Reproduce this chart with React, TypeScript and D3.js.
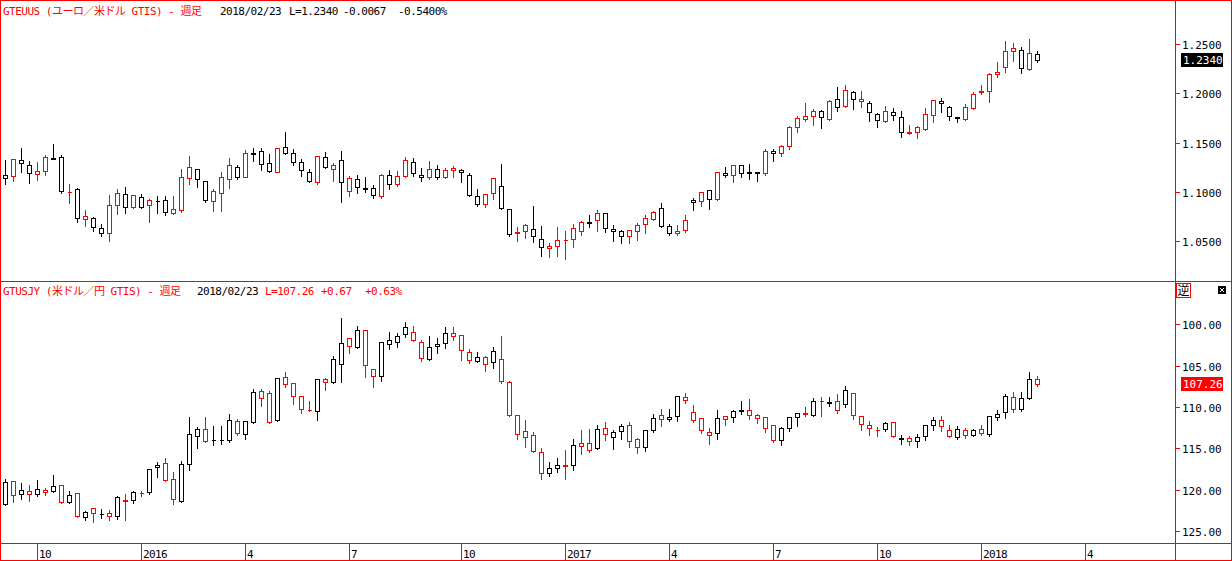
import React, { useEffect, useRef } from "react";
import * as d3 from "d3";

// weekly bars, Friday closes, 2015/09/04 .. 2018/02/23 (130 weeks)
const weekEnds = d3.timeFriday.range(new Date(2015, 8, 4), new Date(2018, 1, 24));

const eurOpen = [
  1.1168, 1.1158, 1.132, 1.1269, 1.1178, 1.1208, 1.1347, 1.135, 1.0996, 1.1026,
  1.0722, 1.0732, 1.0631, 1.058, 1.0864, 1.0975, 1.0843, 1.0945, 1.0864, 1.0908,
  1.0914, 1.0783, 1.082, 1.1137, 1.1229, 1.111, 1.0904, 1.0985, 1.1127, 1.1249,
  1.1154, 1.1394, 1.1411, 1.129, 1.1205, 1.1452, 1.1391, 1.13, 1.1198, 1.11,
  1.135, 1.1235, 1.132, 1.1006, 1.1127, 1.1036, 1.1036, 1.0955, 1.1168, 1.1077,
  1.1158, 1.13, 1.1168, 1.1148, 1.1229, 1.1148, 1.1219, 1.1219, 1.1168, 1.0962,
  1.0874, 1.0985, 1.1056, 1.0823, 1.0583, 1.06, 1.062, 1.0519, 1.0428, 1.0448,
  1.0509, 1.0519, 1.06, 1.0695, 1.0711, 1.0782, 1.062, 1.06, 1.0549, 1.06,
  1.0671, 1.0722, 1.0833, 1.0651, 1.058, 1.061, 1.0914, 1.0904, 1.1016, 1.0924,
  1.1188, 1.1168, 1.1269, 1.1198, 1.1201, 1.1188, 1.1411, 1.1391, 1.1462, 1.1654,
  1.1736, 1.1767, 1.1817, 1.1736, 1.1939, 1.1868, 1.201, 1.1919, 1.1898, 1.1787,
  1.1716, 1.1807, 1.1756, 1.1601, 1.1604, 1.1642, 1.1777, 1.1919, 1.1858, 1.1756,
  1.1736, 1.1848, 1.2013, 1.202, 1.2192, 1.2263, 1.2426, 1.2436, 1.2243, 1.2395,
];
const eurHigh = [
  1.133, 1.1344, 1.1452, 1.132, 1.131, 1.1384, 1.1492, 1.1381, 1.109, 1.1046,
  1.0823, 1.0752, 1.0681, 1.0979, 1.1039, 1.1056, 1.0979, 1.0985, 1.0935, 1.0972,
  1.0965, 1.0968, 1.1239, 1.1374, 1.1246, 1.1117, 1.1039, 1.1212, 1.135, 1.1283,
  1.1432, 1.1452, 1.1452, 1.1394, 1.1452, 1.1617, 1.1442, 1.1344, 1.1242, 1.1377,
  1.1415, 1.1303, 1.1425, 1.1168, 1.1181, 1.1161, 1.1077, 1.1188, 1.1232, 1.1219,
  1.1364, 1.135, 1.1249, 1.132, 1.1279, 1.1249, 1.1269, 1.1239, 1.1198, 1.1036,
  1.0985, 1.114, 1.1293, 1.0836, 1.0651, 1.0685, 1.0864, 1.0664, 1.0488, 1.0654,
  1.061, 1.0681, 1.0715, 1.0772, 1.0826, 1.0785, 1.0671, 1.062, 1.062, 1.0691,
  1.0776, 1.0816, 1.0897, 1.0681, 1.0671, 1.0772, 1.0945, 1.0998, 1.1019, 1.1208,
  1.1259, 1.1279, 1.1279, 1.1289, 1.1212, 1.1442, 1.1442, 1.1482, 1.1675, 1.1776,
  1.1912, 1.1848, 1.1838, 1.1939, 1.2071, 1.2094, 1.203, 1.203, 1.1929, 1.1807,
  1.1878, 1.1858, 1.1827, 1.1686, 1.1675, 1.1858, 1.1939, 1.1959, 1.1878, 1.177,
  1.1898, 1.202, 1.2094, 1.2213, 1.2324, 1.2537, 1.2517, 1.2476, 1.2557, 1.2436,
];
const eurLow = [
  1.1077, 1.1114, 1.1205, 1.1093, 1.1124, 1.1168, 1.133, 1.0985, 1.0891, 1.0698,
  1.0654, 1.0607, 1.0553, 1.0505, 1.0779, 1.0789, 1.084, 1.084, 1.0698, 1.0789,
  1.0769, 1.0779, 1.08, 1.1077, 1.1053, 1.0901, 1.081, 1.081, 1.1039, 1.1134,
  1.1148, 1.1317, 1.1222, 1.1205, 1.12, 1.1381, 1.1276, 1.1165, 1.11, 1.1083,
  1.1239, 1.1114, 1.0901, 1.0962, 1.0992, 1.1002, 1.0941, 1.0941, 1.1033, 1.1063,
  1.1148, 1.1165, 1.1114, 1.1127, 1.1134, 1.1144, 1.1148, 1.1097, 1.0962, 1.0854,
  1.0843, 1.0925, 1.0823, 1.0556, 1.0505, 1.0536, 1.0495, 1.0353, 1.0343, 1.0353,
  1.0323, 1.0444, 1.0566, 1.0647, 1.0607, 1.0597, 1.0505, 1.0485, 1.0485, 1.0515,
  1.0586, 1.0711, 1.064, 1.0566, 1.0559, 1.059, 1.0813, 1.086, 1.083, 1.0914,
  1.1147, 1.1097, 1.1154, 1.1127, 1.1107, 1.1168, 1.131, 1.136, 1.1431, 1.1604,
  1.1716, 1.1682, 1.1652, 1.1726, 1.1817, 1.1858, 1.1838, 1.1858, 1.1716, 1.1662,
  1.1713, 1.1726, 1.156, 1.1584, 1.1544, 1.1631, 1.1706, 1.1807, 1.1726, 1.1713,
  1.1726, 1.1838, 1.199, 1.1909, 1.2162, 1.2213, 1.2331, 1.2203, 1.2233, 1.2314,
];
const eurClose = [
  1.1137, 1.133, 1.129, 1.1188, 1.1208, 1.135, 1.1333, 1.1006, 1.1002, 1.0732,
  1.0752, 1.0641, 1.058, 1.0864, 1.0985, 1.085, 1.0965, 1.0843, 1.0914, 1.0904,
  1.0793, 1.0827, 1.1148, 1.1249, 1.1127, 1.0921, 1.1009, 1.1148, 1.1269, 1.1154,
  1.1391, 1.1388, 1.1279, 1.1215, 1.1445, 1.1391, 1.13, 1.1219, 1.1107, 1.1364,
  1.1249, 1.1269, 1.1097, 1.1137, 1.1046, 1.1029, 1.0965, 1.1168, 1.1077, 1.1158,
  1.132, 1.1188, 1.1148, 1.1229, 1.1148, 1.1219, 1.1239, 1.1198, 1.0965, 1.0874,
  1.0975, 1.1137, 1.0833, 1.057, 1.059, 1.0661, 1.0549, 1.0438, 1.0448, 1.0509,
  1.0515, 1.063, 1.0691, 1.0688, 1.0782, 1.063, 1.06, 1.0549, 1.061, 1.0661,
  1.0732, 1.0793, 1.0651, 1.058, 1.06, 1.0711, 1.0894, 1.0995, 1.0924, 1.1198,
  1.1168, 1.1269, 1.1188, 1.1191, 1.1195, 1.1411, 1.1391, 1.1462, 1.1654, 1.1746,
  1.1767, 1.1817, 1.1756, 1.1919, 1.1858, 1.203, 1.1939, 1.1939, 1.1807, 1.1726,
  1.1817, 1.1777, 1.1604, 1.1608, 1.1655, 1.1787, 1.1929, 1.1898, 1.1767, 1.175,
  1.1858, 1.199, 1.202, 1.2192, 1.2213, 1.2426, 1.2456, 1.2253, 1.2407, 1.234,
];

const jpyOpen = [
  121.69, 118.99, 120.56, 120.2, 120.56, 120.08, 120.2, 119.47, 121.53, 120.44,
  123.35, 122.26, 122.98, 122.86, 123.23, 121.25, 121.29, 120.36, 120.32, 117.29,
  116.81, 118.75, 121.41, 116.93, 113.54, 112.69, 114.02, 114.02, 114.02, 111.72,
  113.3, 111.84, 108.09, 108.33, 111.6, 106.4, 107.12, 108.7, 110.31, 110.51,
  106.64, 107.0, 104.82, 101.67, 102.76, 100.71, 105.43, 106.28, 102.4, 102.16,
  101.19, 100.95, 102.16, 104.22, 102.64, 102.28, 101.07, 101.31, 103.37, 104.46,
  103.98, 104.58, 104.22, 107.0, 110.9, 112.93, 113.42, 115.48, 118.02, 117.41,
  117.01, 117.05, 114.39, 114.39, 114.99, 112.57, 113.66, 112.93, 112.21, 113.9,
  114.87, 112.81, 110.99, 111.48, 111.12, 108.82, 110.63, 111.36, 113.05, 113.18,
  111.12, 111.24, 110.43, 110.39, 110.99, 111.24, 112.21, 114.02, 112.57, 111.24,
  110.72, 111.0, 109.22, 109.46, 109.3, 109.67, 108.33, 111.12, 112.21, 112.73,
  112.69, 111.85, 113.82, 113.78, 114.15, 113.54, 112.21, 111.6, 112.81, 113.66,
  112.81, 113.42, 112.69, 113.3, 111.24, 110.63, 108.82, 110.27, 108.94, 106.6,
];
const jpyHigh = [
  121.81, 121.45, 121.09, 121.33, 120.72, 120.68, 120.32, 121.57, 121.65, 123.35,
  123.71, 123.87, 123.39, 123.71, 123.59, 123.71, 121.65, 120.8, 120.56, 118.5,
  118.99, 121.77, 121.53, 117.66, 114.99, 114.2, 114.63, 114.51, 114.27, 113.42,
  113.9, 111.97, 109.91, 111.97, 111.7, 107.61, 109.67, 110.76, 110.51, 111.6,
  107.97, 107.04, 107.0, 103.49, 102.89, 106.4, 107.61, 106.88, 103.01, 102.76,
  101.55, 102.04, 104.46, 104.25, 103.49, 102.89, 101.92, 104.34, 104.7, 104.5,
  105.67, 105.31, 107.12, 111.12, 113.9, 114.87, 115.48, 118.75, 118.38, 117.9,
  118.75, 117.66, 115.72, 115.48, 115.11, 114.02, 115.11, 113.9, 114.87, 115.6,
  115.36, 113.05, 112.33, 111.72, 111.72, 109.54, 111.84, 113.18, 114.51, 113.9,
  112.21, 111.84, 110.88, 111.48, 111.97, 113.05, 114.27, 114.63, 112.93, 112.33,
  111.12, 111.12, 111.04, 109.91, 110.76, 110.03, 111.48, 112.81, 113.42, 113.54,
  112.93, 113.66, 114.51, 114.63, 114.87, 114.02, 112.81, 112.93, 113.66, 113.9,
  113.78, 113.54, 113.42, 113.54, 111.6, 111.36, 110.63, 110.51, 109.06, 107.49,
];
const jpyLow = [
  118.62, 118.87, 119.11, 119.35, 118.75, 119.72, 118.14, 119.35, 120.08, 120.32,
  122.5, 122.22, 122.26, 122.38, 120.68, 120.44, 120.08, 120.08, 117.41, 116.53,
  116.08, 117.78, 116.45, 111.12, 112.33, 111.12, 112.21, 112.21, 110.75, 111.36,
  111.68, 107.73, 107.73, 107.97, 106.4, 105.67, 107.1, 108.58, 109.18, 106.52,
  106.4, 103.73, 99.13, 101.55, 100.1, 100.59, 105.4, 102.04, 100.83, 100.95,
  99.62, 100.1, 101.8, 101.31, 101.55, 100.22, 100.22, 101.28, 102.89, 103.25,
  103.73, 102.64, 101.31, 106.76, 110.8, 111.48, 112.93, 114.87, 116.57, 116.08,
  115.11, 113.78, 112.69, 112.57, 112.09, 111.72, 112.69, 111.97, 111.72, 113.66,
  112.69, 110.75, 110.15, 110.15, 108.58, 108.21, 109.66, 111.24, 112.45, 110.27,
  110.99, 110.27, 109.18, 108.94, 110.75, 111.2, 112.18, 112.33, 111.12, 110.63,
  109.91, 108.82, 108.7, 108.7, 108.33, 107.36, 108.3, 111.1, 111.6, 112.33,
  111.72, 111.72, 113.3, 113.42, 113.18, 112.09, 111.12, 111.0, 112.09, 112.21,
  112.45, 112.57, 112.09, 111.0, 110.27, 108.33, 108.09, 108.09, 105.67, 106.15,
];
const jpyClose = [
  119.11, 120.68, 120.08, 120.56, 119.96, 120.32, 119.59, 121.53, 120.68, 123.23,
  122.74, 122.86, 122.9, 123.23, 120.93, 121.33, 120.32, 120.44, 117.54, 117.05,
  118.87, 121.17, 116.93, 113.3, 112.69, 114.14, 113.94, 113.94, 111.6, 113.18,
  111.72, 108.21, 108.94, 111.84, 106.52, 107.24, 108.7, 110.27, 110.39, 106.64,
  107.0, 104.22, 102.28, 102.64, 100.71, 104.94, 106.28, 102.16, 101.92, 101.43,
  100.34, 101.92, 104.1, 102.76, 102.4, 101.07, 101.43, 103.13, 104.34, 103.98,
  104.82, 103.25, 106.88, 111.0, 113.2, 113.66, 115.36, 118.02, 117.41, 117.05,
  117.09, 114.63, 114.75, 115.24, 112.69, 113.3, 113.05, 112.33, 114.14, 114.87,
  112.81, 111.36, 111.48, 111.24, 108.7, 109.18, 111.6, 112.81, 113.42, 111.36,
  111.48, 110.51, 110.35, 110.99, 111.36, 112.57, 114.02, 112.57, 111.24, 110.75,
  110.8, 109.3, 109.3, 109.38, 110.39, 107.97, 111.0, 112.09, 112.57, 112.81,
  111.97, 113.54, 113.74, 114.15, 113.66, 112.21, 111.6, 112.33, 113.54, 112.69,
  113.42, 112.81, 113.18, 111.12, 110.88, 108.7, 110.27, 108.94, 106.59, 107.26,
];

const eurTicks = [1.05, 1.1, 1.15, 1.2, 1.25];
const jpyTicks = [100, 105, 110, 115, 120, 125];
const xTickDates = [
  "2015-10-02", "2016-01-01", "2016-04-01", "2016-07-01", "2016-10-07", "2017-01-06",
  "2017-04-07", "2017-07-07", "2017-10-06", "2018-01-05", "2018-04-06",
];
const xTickLabels = ["10", "2016", "4", "7", "10", "2017", "4", "7", "10", "2018", "4"];

const RED = "#ff0000";
const MONO = "'DejaVu Sans Mono', 'Noto Sans CJK JP', monospace";

function drawCandles(g: any, x: any, y: any, o: number[], h: number[], l: number[], c: number[]) {
  weekEnds.forEach((d, i) => {
    const cx = Math.floor(x(d) + 0.01) + 0.5;
    const col = c[i] >= o[i] ? RED : "#000";
    g.append("line")
      .attr("x1", cx).attr("x2", cx)
      .attr("y1", Math.round(y(h[i])) + 0.5)
      .attr("y2", Math.round(y(l[i])) + 0.5)
      .attr("stroke", col);
    const top = Math.round(Math.min(y(o[i]), y(c[i]))) + 0.5;
    const bot = Math.round(Math.max(y(o[i]), y(c[i]))) + 0.5;
    g.append("path")
      .attr("d", `M${cx - 2},${top}H${cx + 2}V${bot}H${cx - 2}Z`)
      .attr("fill", "#fff")
      .attr("stroke", col);
  });
}

export default function App() {
  const ref = useRef<SVGSVGElement>(null);

  useEffect(() => {
    document.body.style.margin = "0";
    const svg = d3.select(ref.current);
    svg.selectAll("*").remove();
    svg.attr("shape-rendering", "crispEdges");

    const x = d3.scaleTime()
      .domain([weekEnds[0], weekEnds[weekEnds.length - 1]])
      .range([5.5, 5.5 + 8 * (weekEnds.length - 1)]);
    // top panel 0..281, bottom (inverted) 281..543
    const yEur = d3.scaleLinear().domain([1.00963, 1.29462]).range([281, 0]);
    const yJpy = d3.scaleLinear().domain([94.734, 126.453]).range([281, 543]);

    const candles = svg.append("g");
    drawCandles(candles, x, yEur, eurOpen, eurHigh, eurLow, eurClose);
    drawCandles(candles, x, yJpy, jpyOpen, jpyHigh, jpyLow, jpyClose);

    // frame
    const frame = svg.append("g").attr("stroke", RED).attr("fill", "none");
    frame.append("rect").attr("x", 0.5).attr("y", 0.5).attr("width", 1231).attr("height", 560);
    frame.append("line").attr("x1", 0).attr("x2", 1232).attr("y1", 281.5).attr("y2", 281.5);
    frame.append("line").attr("x1", 0).attr("x2", 1232).attr("y1", 543.5).attr("y2", 543.5);
    frame.append("line").attr("x1", 1175.5).attr("x2", 1175.5).attr("y1", 0).attr("y2", 561);

    // price axes
    const axis = (ticks: number[], y: any, fmt: (v: number) => string) => {
      ticks.forEach((t) => {
        const ty = Math.round(y(t)) + 0.5;
        svg.append("line").attr("x1", 1175).attr("x2", 1180).attr("y1", ty).attr("y2", ty).attr("stroke", RED);
        svg.append("text").attr("x", 1182).attr("y", ty + 4)
          .attr("font-family", MONO).attr("font-size", 11).attr("fill", "#000")
          .text(fmt(t));
      });
    };
    axis(eurTicks, yEur, d3.format(".4f"));
    axis(jpyTicks, yJpy, d3.format(".2f"));

    // last price tags
    const tag = (v: number, y: any, bg: string, label: string) => {
      const cy = Math.round(y(v));
      svg.append("rect").attr("x", 1181).attr("y", cy - 7).attr("width", 42).attr("height", 14).attr("fill", bg);
      svg.append("text").attr("x", 1183).attr("y", cy + 4)
        .attr("font-family", MONO).attr("font-size", 11).attr("fill", "#fff").text(label);
    };
    tag(eurClose[eurClose.length - 1], yEur, "#000", "1.2340");
    tag(jpyClose[jpyClose.length - 1], yJpy, RED, "107.26");

    // reverse / close buttons
    svg.append("rect").attr("x", 1176.5).attr("y", 283.5).attr("width", 14).attr("height", 14)
      .attr("fill", "#fff").attr("stroke", RED);
    svg.append("text").attr("x", 1183.5).attr("y", 295).attr("text-anchor", "middle")
      .attr("font-family", "'Noto Sans CJK JP'").attr("font-size", 12).attr("fill", "#000").text("逆");
    svg.append("rect").attr("x", 1218).attr("y", 286).attr("width", 8).attr("height", 8).attr("fill", "#000");
    svg.append("path").attr("d", "M1220,288L1224,292M1224,288L1220,292").attr("stroke", "#fff")
      .attr("shape-rendering", "auto");

    // x axis
    xTickDates.forEach((s, i) => {
      const tx = Math.floor(x(new Date(s + "T00:00:00")) + 0.01) + 0.5;
      svg.append("line").attr("x1", tx).attr("x2", tx).attr("y1", 543).attr("y2", 561).attr("stroke", RED);
      svg.append("text").attr("x", tx + 1.5).attr("y", 558)
        .attr("font-family", MONO).attr("font-size", 11).attr("letter-spacing", -0.6)
        .attr("fill", "#000").text(xTickLabels[i]);
    });

    // headers
    const head = (items: [number, string, string][], y: number) => {
      items.forEach(([hx, txt, col]) => {
        svg.append("text").attr("x", hx).attr("y", y)
          .attr("font-family", MONO).attr("font-size", 11).attr("letter-spacing", -0.5)
          .attr("fill", col).attr("xml:space", "preserve").text(txt);
      });
    };
    head([
      [3, "GTEUUS (ユーロ／米ドル GTIS) - 週足", RED],
      [220, "2018/02/23", "#000"],
      [289, "L=1.2340", "#000"],
      [343, "-0.0067", "#000"],
      [398, "-0.5400%", "#000"],
    ], 15);
    head([
      [3, "GTUSJY (米ドル／円 GTIS) - 週足", RED],
      [197, "2018/02/23", "#000"],
      [265, "L=107.26", RED],
      [321, "+0.67", RED],
      [365, "+0.63%", RED],
    ], 295);
  }, []);

  return <svg ref={ref} width={1232} height={561} style={{ display: "block" }} />;
}
